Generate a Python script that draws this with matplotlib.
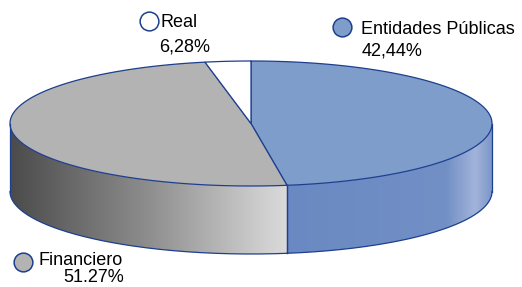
import numpy as np
import matplotlib
matplotlib.use("Agg")
import matplotlib.pyplot as plt
from matplotlib.patches import Polygon
from matplotlib.colors import LinearSegmentedColormap

# ---- data ----
categories = ["Entidades Públicas", "Financiero", "Real"]
values = [42.44, 51.27, 6.28]
value_labels = ["42,44%", "51.27%", "6,28%"]
top_colors = ["#7f9dca", "#b3b3b3", "#ffffff"]

# ---- geometry (pixel units) ----
W, H = 522, 287
cx, cy = 251, 123.5
a, b = 241, 62.5
depth = 68
edge = "#1d3f8f"
r_back, r_front = 0.467, 0.294   # 3-D perspective angle distortion

fig = plt.figure(figsize=(W / 100, H / 100), dpi=100)
ax = fig.add_axes([0, 0, 1, 1])
ax.set_xlim(0, W)
ax.set_ylim(H, 0)
ax.axis("off")

def warp(phi_deg):
    p = np.radians(phi_deg)
    r = r_back if np.sin(p) > 0 else r_front
    return np.degrees(np.arctan2(np.sin(p), r * np.cos(p)))

def unwrap_to(th, ref):
    while th > ref:
        th -= 360
    while th <= ref - 360:
        th += 360
    return th

# cumulative data angles, clockwise from 12 o'clock
total = sum(values)
bounds = [90.0]
for v in values:
    bounds.append(bounds[-1] - 360.0 * v / total)
params = [90.0]
for phi in bounds[1:-1]:
    params.append(unwrap_to(warp(phi), params[-1]))
params.append(-270.0)

def ell(th_deg, dy=0.0):
    t = np.radians(th_deg)
    return cx + a * np.cos(t), cy - b * np.sin(t) + dy

# side gradients
gray_cmap = LinearSegmentedColormap.from_list("g", [(0, "#4b4b4b"), (0.5, "#8e8e8e"), (0.9, "#cdcdcd"), (1, "#dadada")])
blue_cmap = LinearSegmentedColormap.from_list("b", [(0, "#6a89c2"), (0.78, "#7290c6"), (0.92, "#a2b4da"), (1, "#7d97c9")])
side_cmaps = [blue_cmap, gray_cmap, None]

# ---- sides (front half) ----
for i in range(len(values)):
    t1, t2 = params[i], params[i + 1]
    segs = []
    for lo, hi in [(-180, 0), (-540, -360)]:
        s_lo, s_hi = max(t2, lo), min(t1, hi)
        if s_hi > s_lo:
            segs.append((s_lo, s_hi))
    for s_lo, s_hi in segs:
        ts = np.linspace(s_hi, s_lo, 200)
        xt, yt = ell(ts)
        xb, yb = ell(ts[::-1], depth)
        pts = np.column_stack([np.concatenate([xt, xb]), np.concatenate([yt, yb])])
        poly = Polygon(pts, closed=True, facecolor="none", edgecolor="none")
        ax.add_patch(poly)
        x0, x1 = pts[:, 0].min(), pts[:, 0].max()
        y0, y1 = pts[:, 1].min(), pts[:, 1].max()
        grad = np.linspace(0, 1, 256).reshape(1, -1)
        im = ax.imshow(grad, cmap=side_cmaps[i], extent=(x0, x1, y1, y0), aspect="auto", zorder=1, interpolation="bilinear")
        im.set_clip_path(poly)
        ax.plot(xb, yb, color=edge, lw=0.9, zorder=3)
        ax.plot([xt[0], xb[-1]], [yt[0], yb[-1]], color=edge, lw=0.9, zorder=3)
        ax.plot([xt[-1], xb[0]], [yt[-1], yb[0]], color=edge, lw=0.9, zorder=3)

# ---- top slices ----
for i in range(len(values)):
    t1, t2 = params[i], params[i + 1]
    ts = np.linspace(t1, t2, 300)
    xs, ys = ell(ts)
    pts = np.column_stack([np.concatenate([[cx], xs]), np.concatenate([[cy], ys])])
    ax.add_patch(Polygon(pts, closed=True, facecolor=top_colors[i], edgecolor=edge, lw=0.9, zorder=2, joinstyle="round"))

# ---- labels ----
fs = 13
font = "Liberation Sans"
marker_pos = {"Real": (148.5, 21), "Entidades Públicas": (342, 27), "Financiero": (23, 262)}
name_pos = {"Real": (161, 27), "Entidades Públicas": (361, 34), "Financiero": (39, 265)}
val_pos = {"Real": (159, 52), "Entidades Públicas": (362, 55), "Financiero": (63, 282)}
for i, c in enumerate(categories):
    mx, my = marker_pos[c]
    ax.plot([mx], [my], marker="o", ms=13.5, mfc=top_colors[i], mec=edge, mew=1.1, zorder=5, clip_on=False)
    nx, ny = name_pos[c]
    ax.text(nx, ny, c, fontsize=fs, family=font, va="baseline", ha="left", color="#000000")
    vx, vy = val_pos[c]
    ax.text(vx, vy, value_labels[i], fontsize=fs, family=font, va="baseline", ha="left", color="#000000")

fig.savefig("out.png", dpi=100)
